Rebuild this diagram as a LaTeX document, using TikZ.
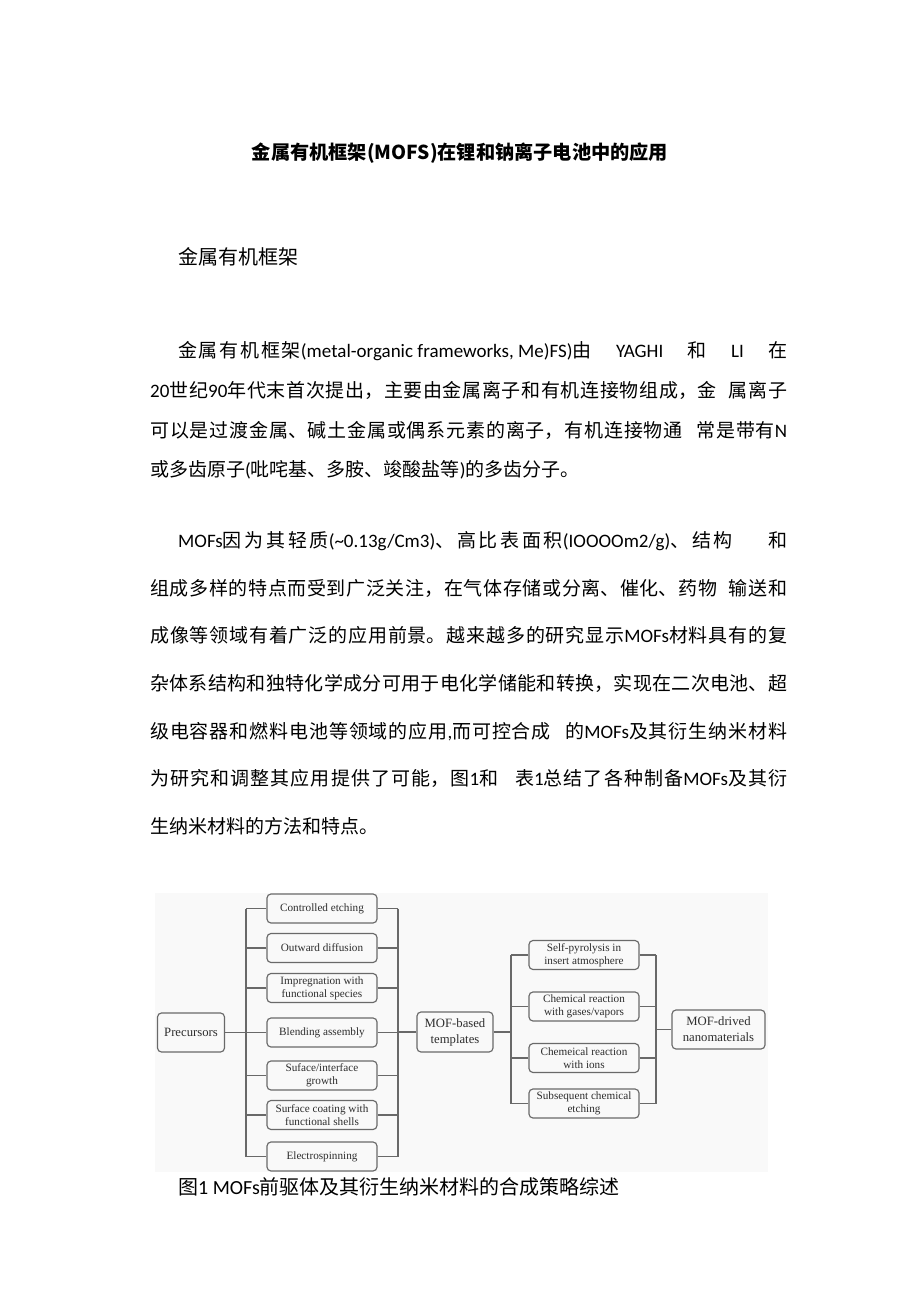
\documentclass[tikz,border=0pt]{standalone}
\usepackage{fontspec}
\setmainfont{Carlito}
\newfontfamily\cjk{Noto Sans CJK SC}
\newfontfamily\figfont{Liberation Serif}
\XeTeXlinebreaklocale "zh"
\XeTeXlinebreakskip=0pt plus 1pt\relax
\newXeTeXintercharclass\cjkcls
\newcount\cc
\cc="4E00\relax
\loop\XeTeXcharclass\cc=\cjkcls\relax\ifnum\cc<"9FFF\relax\advance\cc by 1\relax\repeat
\cc="3000\relax
\loop\XeTeXcharclass\cc=\cjkcls\relax\ifnum\cc<"303F\relax\advance\cc by 1\relax\repeat
\cc="FF00\relax
\loop\XeTeXcharclass\cc=\cjkcls\relax\ifnum\cc<"FFEF\relax\advance\cc by 1\relax\repeat
\XeTeXinterchartoks 0 \cjkcls = {\cjk}
\XeTeXinterchartoks 4095 \cjkcls = {\cjk}
\XeTeXinterchartoks \cjkcls 0 = {\rmfamily}
\XeTeXinterchartoks \cjkcls 4095 = {\rmfamily}
\hbadness=10000
\definecolor{figbg}{RGB}{249,249,249}
\definecolor{figline}{RGB}{105,105,105}
\definecolor{figtext}{RGB}{45,45,45}
\newcommand\jpar{\parfillskip=0pt \spaceskip=.23em plus .6em\relax\tolerance=10000 }
\newcommand\fsp{\hspace{.23em}}
\begin{document}
\XeTeXinterchartokenstate=1
\begin{tikzpicture}[x=1pt,y=-1pt,
  txt/.style={anchor=base west, inner sep=0pt, font=\fontsize{19}{24}\selectfont},
  jl/.style={txt, text width=#1, align=justify},
  smallbox/.style={draw=figline, line width=1.15pt, rounded corners=4pt, minimum width=110pt, minimum height=29pt, inner sep=1pt, align=center, text=figtext, font=\figfont\fontsize{11.2}{13.4}\selectfont},
  bigbox/.style={smallbox, font=\figfont\fontsize{12.7}{16}\selectfont},
  conn/.style={draw=figline, line width=1.15pt}]
\useasboundingbox (0,0) rectangle (920,1301);
\fill[white] (0,0) rectangle (920,1301);

% title and heading
\node[anchor=base, inner sep=0pt] (title) at (460,159) {\XeTeXinterchartokenstate=0 \cjk\bfseries\fontsize{19.2}{22}\selectfont 金属有机框架(MOFS)在锂和钠离子电池中的应用};
\node[txt, font=\fontsize{20}{24}\selectfont] (head) at (178,264.6) {金属有机框架};

% paragraph 1
\node[jl=609pt] (p1a) at (178,357.6) {\jpar 金属有机框架(metal-organic\fsp frameworks,\fsp Me)FS)由 YAGHI 和 LI 在\par};
\node[jl=637pt] (p1b) at (150,397.3) {\jpar 20世纪90年代末首次提出，主要由金属离子和有机连接物组成，金 属离子\par};
\node[jl=637pt] (p1c) at (150,437) {\jpar 可以是过渡金属、碱土金属或偶系元素的离子，有机连接物通 常是带有N\par};
\node[txt] (p1d) at (150,476.7) {或多齿原子(吡咤基、多胺、竣酸盐等)的多齿分子。};

% paragraph 2
\node[jl=609pt] (p2a) at (178,547.6) {\jpar MOFs因为其轻质\mbox{(\textasciitilde0.13g/Cm3)}、高比表面积\mbox{(IOOOOm2/g)}、结构 和\par};
\node[jl=637pt] (p2b) at (150,595.3) {\jpar 组成多样的特点而受到广泛关注，在气体存储或分离、催化、药物 输送和\par};
\node[jl=637pt] (p2c) at (150,642.9) {\jpar 成像等领域有着广泛的应用前景。越来越多的研究显示MOFs材料具有的复\par};
\node[jl=637pt] (p2d) at (150,690.6) {\jpar 杂体系结构和独特化学成分可用于电化学储能和转换，实现在二次电池、超\par};
\node[jl=637pt] (p2e) at (150,738.3) {\jpar 级电容器和燃料电池等领域的应用,而可控合成 的MOFs及其衍生纳米材料\par};
\node[jl=637pt] (p2f) at (150,785.9) {\jpar 为研究和调整其应用提供了可能，图1和 表1总结了各种制备MOFs及其衍\par};
\node[txt] (p2g) at (150,833.6) {生纳米材料的方法和特点。};

% figure
\fill[figbg] (155,893) rectangle (768,1172);

\node[bigbox, minimum width=67pt, minimum height=39pt] (pre) at (191,1032.5) {Precursors};
\node[smallbox] (a1) at (322,908.5) {Controlled etching};
\node[smallbox] (a2) at (322,948) {Outward diffusion};
\node[smallbox] (a3) at (322,988) {Impregnation with\\functional species};
\node[smallbox] (a4) at (322,1032.5) {Blending assembly};
\node[smallbox] (a5) at (322,1075.5) {Suface/interface\\growth};
\node[smallbox] (a6) at (322,1115) {Surface coating with\\functional shells};
\node[smallbox] (a7) at (322,1156.5) {Electrospinning};
\node[bigbox, minimum width=76pt, minimum height=40pt] (tpl) at (455,1032) {MOF-based\\templates};
\node[smallbox] (b1) at (584,955) {Self-pyrolysis in\\insert atmosphere};
\node[smallbox] (b2) at (584,1006.5) {Chemical reaction\\with gases/vapors};
\node[smallbox] (b3) at (584,1058) {Chemeical reaction\\with ions};
\node[smallbox] (b4) at (584,1103.5) {Subsequent chemical\\etching};
\node[bigbox, minimum width=93pt, minimum height=39pt] (drv) at (718.5,1029.5) {MOF-drived\\nanomaterials};

\coordinate (l1t) at (246,908.5); \coordinate (l1b) at (246,1156.5);
\coordinate (r1t) at (398,908.5); \coordinate (r1b) at (398,1156.5);
\coordinate (l2t) at (511,955);   \coordinate (l2b) at (511,1103.5);
\coordinate (r2t) at (656,955);   \coordinate (r2b) at (656,1103.5);

\draw[conn] (l1t) -- (l1b);
\draw[conn] (r1t) -- (r1b);
\draw[conn] (l2t) -- (l2b);
\draw[conn] (r2t) -- (r2b);
\foreach \n in {a1,a2,a3,a4,a5,a6,a7} {
  \draw[conn] (\n.west) -- (\n.west -| l1t);
  \draw[conn] (\n.east) -- (\n.east -| r1t);
}
\foreach \n in {b1,b2,b3,b4} {
  \draw[conn] (\n.west) -- (\n.west -| l2t);
  \draw[conn] (\n.east) -- (\n.east -| r2t);
}
\draw[conn] (pre.east) -- (pre.east -| l1t);
\draw[conn] (tpl.west) -- (tpl.west -| r1t);
\draw[conn] (tpl.east) -- (tpl.east -| l2t);
\draw[conn] (drv.west) -- (drv.west -| r2t);

% caption
\node[txt, font=\fontsize{20}{24}\selectfont] (cap) at (178,1194.6) {图1 MOFs前驱体及其衍生纳米材料的合成策略综述};
\end{tikzpicture}
\end{document}
